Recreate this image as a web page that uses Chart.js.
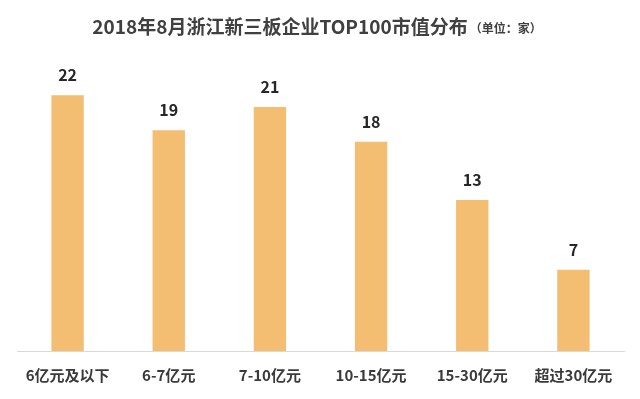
<!DOCTYPE html>
<html>
<head>
<meta charset="utf-8">
<script src="https://cdn.jsdelivr.net/npm/chart.js@4"></script>
<style>
  html, body { margin: 0; padding: 0; background: #fff; }
  #wrap { width: 640px; height: 399px; }
</style>
</head>
<body>
<div id="wrap"><canvas id="marketChart" width="640" height="399"></canvas></div>
<script>
// chart data
const categories = ['6亿元及以下', '6-7亿元', '7-10亿元', '10-15亿元', '15-30亿元', '超过30亿元'];
const companyCounts = [22, 19, 21, 18, 13, 7];
const chartTitle = '2018年8月浙江新三板企业TOP100市值分布';
const unitText = '（单位：家）';

const fontFamily = '"Noto Sans CJK SC", "Noto Sans", sans-serif';

// title drawn by hand so the unit can sit on the same line in a smaller font
const titlePlugin = {
  id: 'titleLine',
  afterDraw(chart) {
    const ctx = chart.ctx;
    ctx.save();
    ctx.textBaseline = 'middle';
    ctx.fillStyle = '#404040';
    ctx.font = 'bold 19px ' + fontFamily;
    const w1 = ctx.measureText(chartTitle).width;
    ctx.font = 'bold 12px ' + fontFamily;
    const w2 = ctx.measureText(unitText).width;
    let x = 316 - (w1 + w2) / 2;
    ctx.textAlign = 'left';
    ctx.font = 'bold 19px ' + fontFamily;
    ctx.fillText(chartTitle, x, 27);
    ctx.font = 'bold 12px ' + fontFamily;
    ctx.fillText(unitText, x + w1 + 2, 28);
    ctx.restore();
  }
};

// value labels over each bar
const valuePlugin = {
  id: 'valueLabels',
  afterDatasetsDraw(chart) {
    const ctx = chart.ctx;
    const meta = chart.getDatasetMeta(0);
    ctx.save();
    ctx.font = 'bold 16px ' + fontFamily;
    ctx.fillStyle = '#262626';
    ctx.textAlign = 'center';
    ctx.textBaseline = 'middle';
    meta.data.forEach((bar, i) => {
      ctx.fillText(companyCounts[i], bar.x, bar.y - 20);
    });
    ctx.restore();
  }
};

const ctx = document.getElementById('marketChart').getContext('2d');
new Chart(ctx, {
  type: 'bar',
  data: {
    labels: categories,
    datasets: [{
      data: companyCounts,
      backgroundColor: '#F3BD72',
      borderWidth: 0,
      categoryPercentage: 1,
      barPercentage: 0.32
    }]
  },
  options: {
    responsive: false,
    animation: false,
    layout: { padding: { top: 72, left: 17, right: 16, bottom: 0 } },
    plugins: {
      legend: { display: false },
      tooltip: { enabled: false },
      title: { display: false }
    },
    scales: {
      y: {
        display: false,
        min: 0,
        max: 24
      },
      x: {
        grid: { display: false, drawTicks: false },
        border: { display: true, color: '#d9d9d9', width: 1 },
        ticks: {
          padding: 15,
          color: '#3a3a3a',
          font: { family: fontFamily, size: 15, weight: 'bold' },
          maxRotation: 0
        },
        afterFit(scale) { scale.height = 48; }
      }
    }
  },
  plugins: [titlePlugin, valuePlugin]
});
</script>
</body>
</html>
